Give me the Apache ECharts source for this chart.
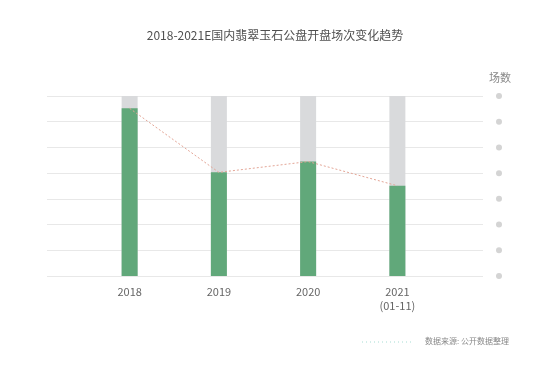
<!DOCTYPE html>
<html><head><meta charset="utf-8">
<script src="https://cdn.jsdelivr.net/npm/echarts@6/dist/echarts.min.js"></script>
<style>html,body{margin:0;padding:0;background:#fff}#c{width:550px;height:371px}</style>
</head><body><div id="c"></div>
<script>
const categories = ['2018', '2019', '2020', '2021\n(01-11)'];
const sessions = [652, 403, 445, 351];
const yMax = 700;
const yStep = 100;

const chart = echarts.init(document.getElementById('c'));
const font = '"Noto Sans CJK SC", "Noto Sans", sans-serif';
chart.setOption({
  backgroundColor: '#fff',
  animation: false,
  textStyle: { fontFamily: font },
  title: {
    text: '2018-2021E国内翡翠玉石公盘开盘场次变化趋势',
    left: 'center', top: 24,
    textStyle: { fontSize: 12, fontWeight: 'normal', color: '#505050', fontFamily: font }
  },
  grid: [
    { left: 47, right: 67, top: 96, bottom: 95 },
    { left: 85, right: 108, top: 96, bottom: 95 }
  ],
  xAxis: [
    { gridIndex: 0, type: 'category', data: categories, show: false },
    { gridIndex: 1, type: 'category', data: categories,
      axisLine: { show: false }, axisTick: { show: false },
      axisLabel: { color: '#666', fontSize: 11, margin: 9, lineHeight: 14, fontFamily: font } }
  ],
  yAxis: [
    { gridIndex: 0, type: 'value', position: 'right', min: 0, max: yMax, interval: yStep,
      name: '场数', nameGap: 13, nameTextStyle: { color: '#888', fontSize: 11, align: 'left', padding: [0, 0, 0, 6] },
      axisLine: { show: false }, axisTick: { show: false },
      splitLine: { lineStyle: { color: '#e8e8e8', width: 1 } },
      axisLabel: { margin: 13, formatter: () => '{d|}',
        rich: { d: { width: 6, height: 6, borderRadius: 3, backgroundColor: '#d4d4d4' } } } },
    { gridIndex: 1, type: 'value', min: 0, max: yMax, interval: yStep, show: false }
  ],
  series: [
    { type: 'bar', xAxisIndex: 1, yAxisIndex: 1, data: sessions, barWidth: 16,
      itemStyle: { color: '#61a87a' },
      showBackground: true, backgroundStyle: { color: '#d9dadc' } },
    { type: 'line', xAxisIndex: 1, yAxisIndex: 1, data: sessions, symbol: 'none',
      lineStyle: { color: '#e4a697', width: 1, type: [2, 2] }, z: 5 }
  ],
  graphic: [
    { type: 'line', shape: { x1: 362, y1: 342, x2: 414, y2: 342 },
      style: { stroke: '#a6dcd3', lineWidth: 1, lineDash: [1, 3] } },
    { type: 'text', left: 425, top: 337,
      style: { text: '数据来源: 公开数据整理', fill: '#888', fontSize: 8, fontFamily: font } }
  ]
});
</script></body></html>
